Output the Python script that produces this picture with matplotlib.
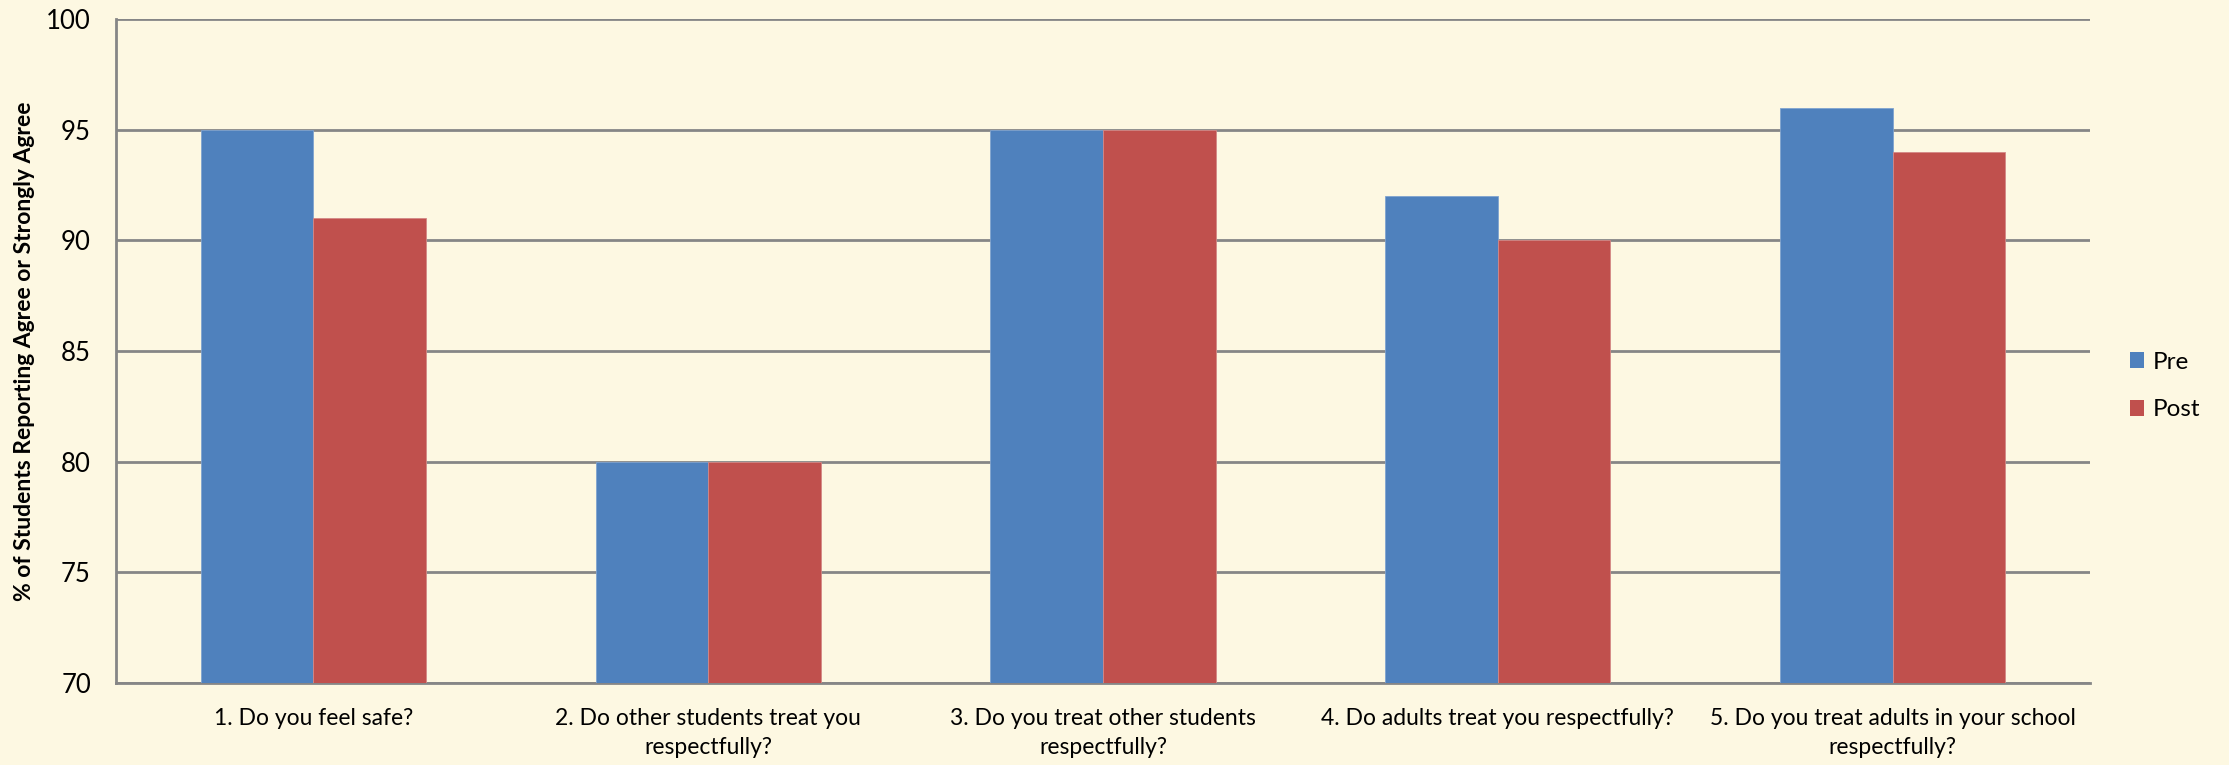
import matplotlib
matplotlib.use("Agg")
import matplotlib.pyplot as plt
import numpy as np
from matplotlib.patches import Patch

categories = [
    "1. Do you feel safe?",
    "2. Do other students treat you\nrespectfully?",
    "3. Do you treat other students\nrespectfully?",
    "4. Do adults treat you respectfully?",
    "5. Do you treat adults in your school\nrespectfully?",
]
pre = [95, 80, 95, 92, 96]
post = [91, 80, 95, 90, 94]
series_names = ["Pre", "Post"]
y_ticks = [70, 75, 80, 85, 90, 95, 100]

bg = "#FDF8E2"
blue = "#4F81BD"
red = "#C0504D"
grid = "#868686"

plt.rcParams["font.family"] = ["Lato", "DejaVu Sans"]

fig = plt.figure(figsize=(22.29, 7.65), dpi=100, facecolor=bg)
W, H = 2229, 765
left, right, top, bottom = 116, 2090, 19, 683
ax = fig.add_axes([left / W, 1 - bottom / H, (right - left) / W, (bottom - top) / H])
ax.set_facecolor(bg)

x = np.arange(len(categories))
w = 0.285
ax.bar(x - w / 2, pre, width=w, bottom=0, color=blue, edgecolor="#7FA3CF", linewidth=0.6, zorder=3)
ax.bar(x + w / 2, post, width=w, bottom=0, color=red, edgecolor="#D48886", linewidth=0.6, zorder=3)

ax.set_xlim(-0.5, len(categories) - 0.5)
ax.set_ylim(70, 100)
ax.set_yticks(y_ticks)
ax.set_yticklabels([str(t) for t in y_ticks], fontsize=18.5)
ax.set_xticks(x)
ax.set_xticklabels(categories, fontsize=16.5, linespacing=1.45)
ax.tick_params(axis="both", length=0, colors="black")
ax.tick_params(axis="y", pad=18)
ax.tick_params(axis="x", pad=18)

ax.yaxis.grid(True, color=grid, linewidth=2, zorder=0)
ax.set_axisbelow(True)
for s in ["top", "right"]:
    ax.spines[s].set_visible(False)
for s in ["left", "bottom"]:
    ax.spines[s].set_color(grid)
    ax.spines[s].set_linewidth(2)

ax.set_ylabel("% of Students Reporting Agree or Strongly Agree", fontsize=16.5, fontweight="bold", labelpad=8)

handles = [Patch(facecolor=blue, edgecolor="none"), Patch(facecolor=red, edgecolor="none")]
fig.legend(handles, series_names, loc="center left", bbox_to_anchor=(2108 / W, 1 - 386 / H),
           frameon=False, fontsize=17.5, handlelength=0.6, handleheight=0.6,
           handletextpad=0.35, labelspacing=1.1)

fig.savefig("out.png", dpi=100, facecolor=bg)
